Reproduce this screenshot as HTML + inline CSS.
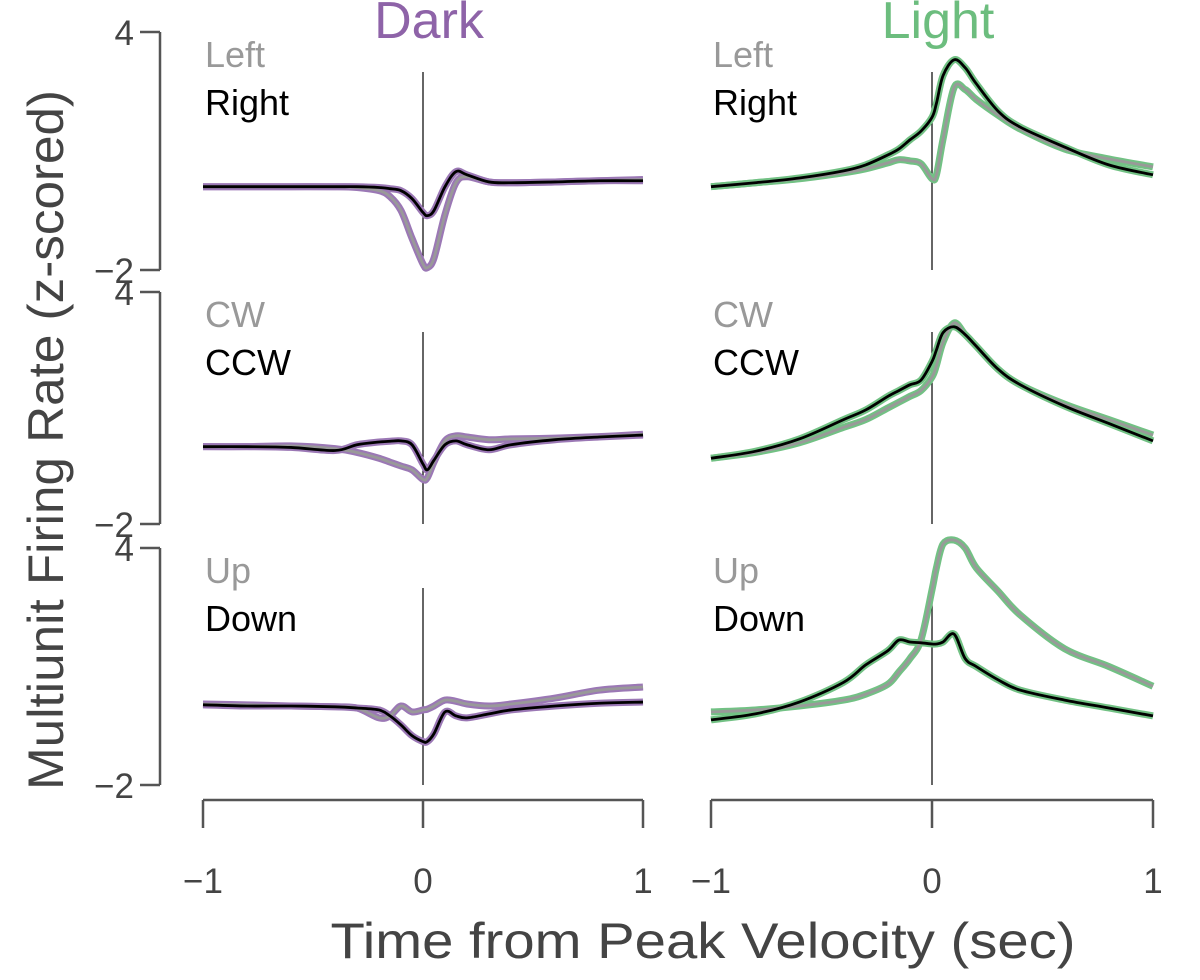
<!DOCTYPE html>
<html><head><meta charset="utf-8"><style>
html,body{margin:0;padding:0;background:#fff;}
svg{display:block;font-family:"Liberation Sans",sans-serif;}
</style></head><body>
<svg id="chart" width="1200" height="980"></svg>
<script>
const times=[-1,-0.8,-0.6,-0.4,-0.3,-0.2,-0.15,-0.1,-0.05,0,0.02,0.05,0.1,0.15,0.2,0.3,0.4,0.6,0.8,1];
const rowLabels=[["Left","Right"],["CW","CCW"],["Up","Down"]];
const yTicks=[4,-2];
const xTicks=[-1,0,1];
const darkLeft=[0.1,0.1,0.1,0.1,0.08,0.0,-0.15,-0.5,-1.2,-1.85,-1.94,-1.7,-0.6,0.2,0.35,0.22,0.2,0.22,0.25,0.28];
const darkRight=[0.1,0.1,0.1,0.1,0.1,0.08,0.05,0.0,-0.2,-0.55,-0.63,-0.5,0.1,0.48,0.4,0.22,0.2,0.22,0.25,0.25];
const lightLeft=[0.1,0.2,0.3,0.45,0.55,0.7,0.78,0.75,0.68,0.3,0.4,1.3,2.6,2.55,2.3,1.9,1.55,1.05,0.8,0.6];
const lightRight=[0.1,0.2,0.32,0.5,0.65,0.9,1.05,1.28,1.5,1.85,2.2,2.9,3.3,3.1,2.7,2.0,1.6,1.1,0.65,0.4];
const darkCW=[0,0,0.02,-0.05,-0.15,-0.3,-0.4,-0.5,-0.6,-0.85,-0.8,-0.4,0.15,0.28,0.25,0.18,0.2,0.22,0.26,0.32];
const darkCCW=[0,0,-0.02,-0.1,0.05,0.12,0.14,0.15,0.05,-0.45,-0.6,-0.35,0.05,0.15,0.05,-0.08,0.05,0.18,0.25,0.3];
const lightCW=[-0.3,-0.15,0.1,0.5,0.7,1.0,1.15,1.3,1.45,1.8,2.1,2.7,3.2,2.9,2.6,2.0,1.6,1.1,0.7,0.3];
const lightCCW=[-0.3,-0.12,0.2,0.7,0.95,1.3,1.45,1.6,1.72,2.2,2.5,2.95,3.1,2.9,2.6,2.0,1.6,1.05,0.6,0.15];
const darkUp=[0.05,0.03,0.0,-0.02,-0.05,-0.3,-0.25,0.0,-0.15,-0.1,-0.08,0.0,0.15,0.12,0.05,0.0,0.05,0.2,0.4,0.48];
const darkDown=[0.03,0.0,0.0,-0.02,-0.05,-0.1,-0.25,-0.48,-0.75,-0.9,-0.9,-0.7,-0.15,-0.25,-0.3,-0.2,-0.1,0.0,0.07,0.1];
const lightUp=[-0.15,-0.1,0.0,0.15,0.3,0.55,0.86,1.2,1.67,2.94,3.5,4.1,4.2,4.0,3.5,2.9,2.3,1.45,1.0,0.5];
const lightDown=[-0.35,-0.2,0.1,0.6,1.04,1.4,1.67,1.62,1.6,1.57,1.57,1.62,1.82,1.2,1.0,0.66,0.4,0.15,-0.05,-0.25];

const NS="http://www.w3.org/2000/svg";
const svg=document.getElementById('chart');
function mk(tag,attrs,parent){const e=document.createElementNS(NS,tag);for(const k in attrs)e.setAttribute(k,attrs[k]);(parent||svg).appendChild(e);return e;}
const rows=[{top:32,bot:270},{top:292,bot:524},{top:548,bot:785}];
const cols=[{x0:203,x1:643,band:"#9b78b5",title:"Dark",tc:"#8e63a8"},{x0:711,x1:1153,band:"#72c184",title:"Light",tc:"#6cbd7e"}];
const series=[[[darkLeft,darkRight],[lightLeft,lightRight]],[[darkCW,darkCCW],[lightCW,lightCCW]],[[darkUp,darkDown],[lightUp,lightDown]]];
function xs(c,t){return c.x0+(t+1)/2*(c.x1-c.x0);}
function ys(r,v){return r.top+(4-v)/6*(r.bot-r.top);}
function pathD(pts){let d="M"+pts[0][0]+","+pts[0][1];for(let i=0;i<pts.length-1;i++){const p0=pts[Math.max(0,i-1)],p1=pts[i],p2=pts[i+1],p3=pts[Math.min(pts.length-1,i+2)];const c1x=p1[0]+(p2[0]-p0[0])/6,c1y=p1[1]+(p2[1]-p0[1])/6,c2x=p2[0]-(p3[0]-p1[0])/6,c2y=p2[1]-(p3[1]-p1[1])/6;d+=` C${c1x},${c1y} ${c2x},${c2y} ${p2[0]},${p2[1]}`;}return d;}
rows.forEach((r,ri)=>{
  const ax=mk('g',{});
  
  
  mk('line',{x1:160,y1:r.top,x2:160,y2:r.bot,stroke:"#555","stroke-width":2.5},ax);
  yTicks.forEach(v=>{const y=ys(r,v);
    mk('line',{x1:140,y1:y,x2:160,y2:y,stroke:"#555","stroke-width":2.5},ax);
    const t=mk('text',{x:134,y:y+13,"text-anchor":"end","font-size":35,fill:"#444"},ax);t.textContent=v<0?"\u2212"+(-v):String(v);
    
    });
});
cols.forEach((c,ci)=>{
  const tt=mk('text',{x:(c.x0+c.x1)/2+6,y:38,"text-anchor":"middle","font-size":52,fill:c.tc});tt.textContent=c.title;
  
  
  const ax=mk('g',{});
  
  
  mk('line',{x1:c.x0,y1:800,x2:c.x1,y2:800,stroke:"#555","stroke-width":2.5},ax);
  xTicks.forEach(t=>{const x=xs(c,t);
    mk('line',{x1:x,y1:800,x2:x,y2:828,stroke:"#555","stroke-width":2.5},ax);
    const l=mk('text',{x:x,y:893,"text-anchor":"middle","font-size":35,fill:"#444"},ax);l.textContent=t<0?"\u2212"+(-t):String(t);
    
    });
  rows.forEach((r,ri)=>{
    const g=mk('g',{});
    
    
    mk('line',{x1:xs(c,0),y1:r.top+40,x2:xs(c,0),y2:r.bot,stroke:"#000","stroke-width":1.2},g);
    const l1=mk('text',{x:c.x0+2,y:r.top+35,"font-size":36,fill:"#999"},g);l1.textContent=rowLabels[ri][0];
    
    
    const l2=mk('text',{x:c.x0+2,y:r.top+83,"font-size":36,fill:"#000"},g);l2.textContent=rowLabels[ri][1];
    
    
    const [sg,sb]=series[ri][ci];
    const dg=pathD(times.map((t,i)=>[xs(c,t),ys(r,sg[i])]));
    const db=pathD(times.map((t,i)=>[xs(c,t),ys(r,sb[i])]));
    [dg,db].forEach(d=>{const b=mk('path',{d:d,fill:"none",stroke:c.band,"stroke-width":7,"stroke-linejoin":"round"},g);
      
      });
    const pg=mk('path',{d:dg,fill:"none",stroke:"#999","stroke-width":2.8},g);
    
    
    const pb=mk('path',{d:db,fill:"none",stroke:"#000","stroke-width":2.8},g);
    
    
  });
});
const xt=mk('text',{x:703,y:958,"text-anchor":"middle","font-size":50,fill:"#444",textLength:745,lengthAdjust:"spacingAndGlyphs"});xt.textContent="Time from Peak Velocity (sec)";


const yt=mk('text',{x:0,y:0,"text-anchor":"middle","font-size":50,fill:"#444",textLength:700,lengthAdjust:"spacingAndGlyphs",transform:"translate(63,440) rotate(-90)"});yt.textContent="Multiunit Firing Rate (z-scored)";


</script>
</body></html>
